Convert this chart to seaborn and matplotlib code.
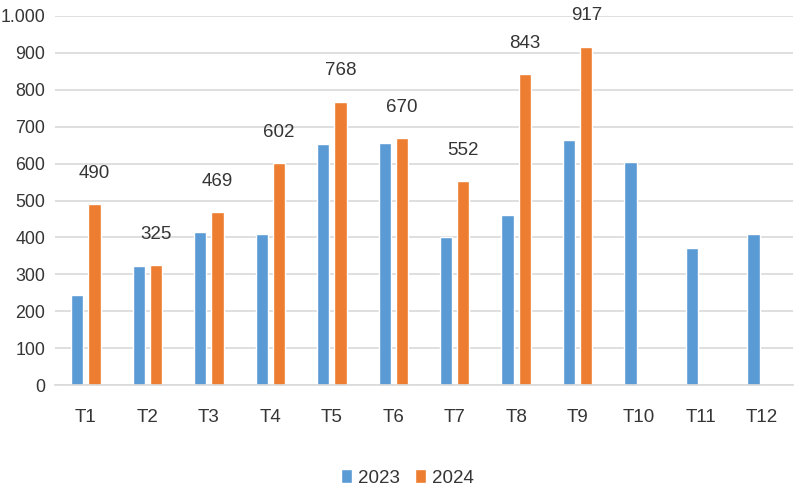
import matplotlib
matplotlib.use("Agg")
import matplotlib.pyplot as plt
import matplotlib.ticker as mticker
import seaborn as sns
import pandas as pd
import numpy as np

months = ["T1", "T2", "T3", "T4", "T5", "T6", "T7", "T8", "T9", "T10", "T11", "T12"]
values_2023 = [243, 323, 414, 408, 652, 657, 401, 462, 665, 603, 370, 408]
values_2024 = [490, 325, 469, 602, 768, 670, 552, 843, 917, None, None, None]
series = ["2023", "2024"]
colors = ["#5B9BD5", "#ED7D31"]

df = pd.DataFrame({
    "month": months * 2,
    "year": ["2023"] * len(months) + ["2024"] * len(months),
    "value": values_2023 + values_2024,
})
df["value"] = df["value"].astype(float)

sns.set_theme(style="white")
FONT = ["Liberation Sans", "DejaVu Sans"]
plt.rcParams["font.family"] = FONT
TXT = "#353535"
FS = 13.5

fig = plt.figure(figsize=(8, 5), dpi=100)
ax = fig.add_axes([0.069, 0.23, 0.922, 0.738])

sns.barplot(data=df, x="month", y="value", hue="year", order=months,
            hue_order=series, palette=colors, width=0.56, gap=0.29,
            saturation=1, ax=ax, legend=True)

ax.set_ylim(0, 1000)
ax.yaxis.set_major_locator(mticker.MultipleLocator(100))
ax.yaxis.set_major_formatter(mticker.FuncFormatter(
    lambda v, p: f"{int(round(v)):,}".replace(",", ".")))
ax.grid(axis="y", color="#D9D9D9", linewidth=1.2)
ax.set_axisbelow(True)
for s in ["top", "right", "left"]:
    ax.spines[s].set_visible(False)
ax.spines["bottom"].set_color("#D9D9D9")
ax.spines["bottom"].set_linewidth(1.2)
ax.set_xlabel("")
ax.set_ylabel("")
ax.tick_params(axis="y", length=0, pad=7, labelsize=12.8, labelcolor=TXT)
ax.tick_params(axis="x", length=0, pad=17, labelsize=FS, labelcolor=TXT)

# data labels on 2024 bars
for bar in ax.containers[1]:
    if bar is None:
        continue
    h = bar.get_height()
    if not np.isfinite(h) or h == 0:
        continue
    ax.annotate(f"{int(round(h))}", (bar.get_x() + bar.get_width() / 2, h),
                xytext=(0, 16), textcoords="offset points", ha="center",
                va="bottom", fontsize=FS, color=TXT)

handles, labels = ax.get_legend_handles_labels()
if ax.get_legend() is not None:
    ax.get_legend().remove()
fig.legend(handles, labels, loc="center", bbox_to_anchor=(0.509, 0.044), ncol=2,
           frameon=False, fontsize=FS, handlelength=0.6, handleheight=0.7,
           handletextpad=0.3, columnspacing=0.8, labelcolor=TXT)

fig.savefig("out.png", dpi=100, facecolor="white")
